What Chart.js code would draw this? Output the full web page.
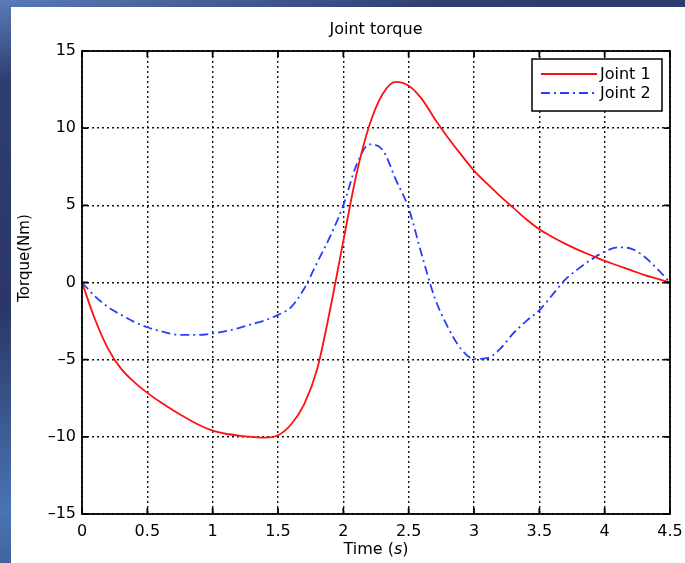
<!DOCTYPE html>
<html>
<head>
<meta charset="utf-8">
<script src="https://cdn.jsdelivr.net/npm/chart.js@4/dist/chart.umd.min.js"></script>
<style>
html, body { margin: 0; padding: 0; width: 685px; height: 563px; overflow: hidden;
  background: linear-gradient(170deg, #5a7cb8 0%, #2e3e70 12%, #2a3766 45%, #4a74b4 75%, #2b3a6a 100%); }
#panel { position: absolute; left: 11px; top: 7px; width: 674px; height: 556px; background: #fff; }
#wrap { position: absolute; left: 0; top: 0; width: 685px; height: 563px; }
</style>
</head>
<body>
<div id="panel"></div>
<div id="wrap"><canvas id="chart1"></canvas></div>
<script>
const title = 'Joint torque'
const yLabel = 'Torque(Nm)'

const time = [0, 0.1, 0.2, 0.3, 0.4, 0.5, 0.6, 0.7, 0.8, 0.9, 1.0, 1.1, 1.2, 1.3, 1.4, 1.5, 1.6, 1.7, 1.8, 1.9, 2.0, 2.1, 2.2,
    2.3, 2.4, 2.5, 2.6, 2.7, 2.8, 2.9, 3.0, 3.1, 3.2, 3.3, 3.4, 3.5, 3.6, 3.7, 3.8, 3.9, 4.0, 4.1, 4.2, 4.3, 4.4, 4.5]
const joint1 = [0, -2.4, -4.3, -5.6, -6.45, -7.15, -7.75, -8.3, -8.8, -9.25, -9.6, -9.8, -9.92, -10.0, -10.05, -9.9, -9.2, -7.9, -5.6, -1.7, 2.7, 7.0, 10.2,
    12.2, 13.0, 12.75, 11.9, 10.6, 9.4, 8.3, 7.25, 6.4, 5.6, 4.85, 4.1, 3.45, 2.95, 2.5, 2.1, 1.75, 1.4, 1.1, 0.8, 0.5, 0.25, 0]
const joint2 = [0, -0.9, -1.6, -2.1, -2.55, -2.9, -3.15, -3.35, -3.4, -3.4, -3.3, -3.15, -2.95, -2.7, -2.45, -2.1, -1.6, -0.4, 1.3, 3.0, 5.0, 7.6, 8.95,
    8.6, 6.7, 4.8, 1.8, -1.0, -2.9, -4.3, -4.95, -4.9, -4.3, -3.3, -2.5, -1.8, -0.8, 0.2, 0.9, 1.5, 2.0, 2.28, 2.2, 1.7, 0.9, 0]

const xTicks = [0, 0.5, 1, 1.5, 2, 2.5, 3, 3.5, 4, 4.5]
const yTicks = [-15, -10, -5, 0, 5, 10, 15]

const font = 'DejaVu Sans, Verdana, sans-serif'
const toPoints = ys => time.map((t, i) => ({ x: t, y: ys[i] }))
const minus = v => v < 0 ? '\u2013' + Math.abs(v) : '' + v

// matlab style box, inward ticks, title, axis labels and legend
const frame = {
    id: 'frame',
    afterDatasetsDraw(chart) {
        const { ctx, chartArea: a, scales: { x, y } } = chart
        ctx.save()
        ctx.strokeStyle = '#000'
        ctx.lineWidth = 1.8
        ctx.setLineDash([])
        ctx.strokeRect(a.left, a.top, a.right - a.left, a.bottom - a.top)
        ctx.beginPath()
        xTicks.forEach(v => {
            const px = x.getPixelForValue(v)
            ctx.moveTo(px, a.bottom); ctx.lineTo(px, a.bottom - 6)
            ctx.moveTo(px, a.top); ctx.lineTo(px, a.top + 6)
        })
        yTicks.forEach(v => {
            const py = y.getPixelForValue(v)
            ctx.moveTo(a.left, py); ctx.lineTo(a.left + 6, py)
            ctx.moveTo(a.right, py); ctx.lineTo(a.right - 6, py)
        })
        ctx.stroke()

        const cx = (a.left + a.right) / 2
        ctx.fillStyle = '#000'
        ctx.textBaseline = 'middle'
        ctx.textAlign = 'center'
        ctx.font = '16px ' + font
        ctx.fillText(title, cx, 30)

        // x label, "s" in italics
        const parts = ['Time (', 's', ')']
        const fonts = ['16px ' + font, 'italic 16px ' + font, '16px ' + font]
        let w = 0
        parts.forEach((p, i) => { ctx.font = fonts[i]; w += ctx.measureText(p).width })
        let px = cx - w / 2
        ctx.textAlign = 'left'
        parts.forEach((p, i) => { ctx.font = fonts[i]; ctx.fillText(p, px, 550); px += ctx.measureText(p).width })

        ctx.font = '15px ' + font
        ctx.save()
        ctx.translate(25, 258)
        ctx.rotate(-Math.PI / 2)
        ctx.textAlign = 'center'
        ctx.fillText(yLabel, 0, 0)
        ctx.restore()

        // legend
        const bw = 130, bh = 52
        const bx = a.right - 8 - bw, by = a.top + 8
        ctx.fillStyle = '#fff'
        ctx.fillRect(bx, by, bw, bh)
        ctx.lineWidth = 1.5
        ctx.strokeStyle = '#000'
        ctx.strokeRect(bx, by, bw, bh)
        chart.data.datasets.forEach((ds, i) => {
            const ly = by + 15 + i * 19
            ctx.strokeStyle = ds.borderColor
            ctx.lineWidth = ds.borderWidth
            ctx.setLineDash(ds.borderDash || [])
            ctx.beginPath(); ctx.moveTo(bx + 9, ly); ctx.lineTo(bx + 65, ly); ctx.stroke()
            ctx.setLineDash([])
            ctx.fillStyle = '#000'
            ctx.textAlign = 'left'
            ctx.font = '16px ' + font
            ctx.fillText(ds.label, bx + 68, ly + 1)
        })
        ctx.restore()
    }
}

new Chart(document.getElementById('chart1'), {
    type: 'line',
    data: {
        datasets: [{
            label: 'Joint 1',
            data: toPoints(joint1),
            borderColor: '#ff1010',
            borderWidth: 1.8,
            pointRadius: 0,
            cubicInterpolationMode: 'monotone'
        }, {
            label: 'Joint 2',
            data: toPoints(joint2),
            borderColor: '#2a3cff',
            borderWidth: 1.8,
            borderDash: [9, 4, 2, 4],
            pointRadius: 0,
            cubicInterpolationMode: 'monotone'
        }]
    },
    plugins: [frame],
    options: {
        responsive: true,
        maintainAspectRatio: false,
        animation: false,
        layout: { padding: { left: 0, right: 15, top: 51, bottom: 0 } },
        plugins: {
            legend: { display: false },
            tooltip: { enabled: false },
            title: { display: false }
        },
        scales: {
            x: {
                type: 'linear',
                min: 0, max: 4.5,
                afterBuildTicks: s => { s.ticks = xTicks.map(v => ({ value: v })) },
                afterFit: s => { s.height = 49; s.paddingLeft = 0; s.paddingRight = 0 },
                grid: { color: '#111', lineWidth: 1.4, drawTicks: false },
                border: { display: false, dash: [2, 3] },
                ticks: { color: '#000', padding: 8, maxRotation: 0, font: { family: font, size: 16 }, callback: v => '' + v }
            },
            y: {
                min: -15, max: 15,
                afterBuildTicks: s => { s.ticks = yTicks.map(v => ({ value: v })) },
                afterFit: s => { s.width = 82; s.paddingTop = 0; s.paddingBottom = 0 },
                grid: { color: '#111', lineWidth: 1.4, drawTicks: false },
                border: { display: false, dash: [2, 3] },
                ticks: { color: '#000', padding: 6, font: { family: font, size: 16 }, callback: minus }
            }
        }
    }
})
</script>
</body>
</html>
